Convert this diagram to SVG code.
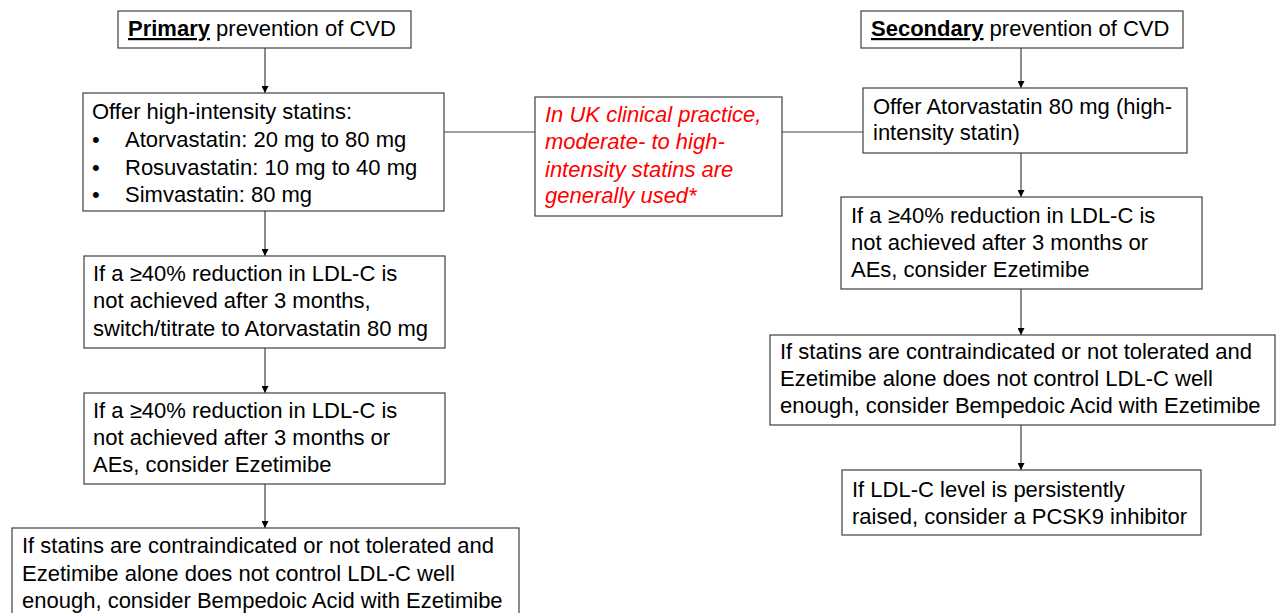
<svg xmlns="http://www.w3.org/2000/svg" width="1279" height="613" viewBox="0 0 1279 613">
<defs>
<marker id="ah" viewBox="0 0 10 10" refX="10" refY="5" markerWidth="7" markerHeight="7" markerUnits="userSpaceOnUse" orient="auto">
<path d="M0,0 L10,5 L0,10 z" fill="#000"/>
</marker>
<style>
.box{fill:#fff;stroke:#404040;stroke-width:1.2}
.t{font-family:"Liberation Sans",Arial,sans-serif;font-size:22px;fill:#000}
.r{font-family:"Liberation Sans",Arial,sans-serif;font-size:22px;font-style:italic;fill:#ff0000}
.b{font-weight:bold;text-decoration:underline}
.c{stroke:#404040;stroke-width:1.2;fill:none}
.a{marker-end:url(#ah)}
</style>
</defs>
<rect width="1279" height="613" fill="#fff"/>
<g id="connectors">
<line class="c a" x1="265" y1="48" x2="265" y2="93"/>
<line class="c a" x1="265" y1="211" x2="265" y2="256"/>
<line class="c a" x1="265" y1="348" x2="265" y2="393"/>
<line class="c a" x1="265" y1="484" x2="265" y2="528"/>
<line class="c" x1="444" y1="132" x2="535" y2="132"/>
<line class="c" x1="782" y1="132" x2="863" y2="132"/>
<line class="c a" x1="1021" y1="48" x2="1021" y2="88"/>
<line class="c a" x1="1021" y1="153" x2="1021" y2="197"/>
<line class="c a" x1="1021" y1="289" x2="1021" y2="335"/>
<line class="c a" x1="1021" y1="425" x2="1021" y2="470"/>
</g>
<g id="primary">
<rect class="box" x="118" y="11" width="293" height="37"/>
<text class="t" x="128" y="36"><tspan class="b">Primary</tspan> prevention of CVD</text>
</g>
<g id="offer-high">
<rect class="box" x="83" y="93" width="361" height="118"/>
<text class="t" x="92" y="119">Offer high-intensity statins:</text>
<text class="t" x="92" y="147">•</text><text class="t" x="125" y="147">Atorvastatin: 20 mg to 80 mg</text>
<text class="t" x="92" y="175">•</text><text class="t" x="125" y="175">Rosuvastatin: 10 mg to 40 mg</text>
<text class="t" x="92" y="202">•</text><text class="t" x="125" y="202">Simvastatin: 80 mg</text>
</g>
<g id="p-switch">
<rect class="box" x="84" y="256" width="361" height="92"/>
<text class="t" x="93" y="281">If a ≥40% reduction in LDL-C is</text>
<text class="t" x="93" y="308">not achieved after 3 months,</text>
<text class="t" x="93" y="336">switch/titrate to Atorvastatin 80 mg</text>
</g>
<g id="p-ezetimibe">
<rect class="box" x="84" y="393" width="361" height="91"/>
<text class="t" x="93" y="418">If a ≥40% reduction in LDL-C is</text>
<text class="t" x="93" y="445">not achieved after 3 months or</text>
<text class="t" x="93" y="472">AEs, consider Ezetimibe</text>
</g>
<g id="p-bempedoic">
<rect class="box" x="12" y="528" width="507" height="100"/>
<text class="t" x="22" y="553">If statins are contraindicated or not tolerated and</text>
<text class="t" x="22" y="581">Ezetimibe alone does not control LDL-C well</text>
<text class="t" x="22" y="608">enough, consider Bempedoic Acid with Ezetimibe</text>
</g>
<g id="uk-note">
<rect class="box" x="535" y="97" width="247" height="119"/>
<text class="r" x="545" y="122">In UK clinical practice,</text>
<text class="r" x="545" y="149">moderate- to high-</text>
<text class="r" x="545" y="177">intensity statins are</text>
<text class="r" x="545" y="203">generally used*</text>
</g>
<g id="secondary">
<rect class="box" x="861" y="11" width="322" height="37"/>
<text class="t" x="871" y="36"><tspan class="b">Secondary</tspan> prevention of CVD</text>
</g>
<g id="offer-atorva">
<rect class="box" x="863" y="88" width="324" height="65"/>
<text class="t" x="873" y="114">Offer Atorvastatin 80 mg (high-</text>
<text class="t" x="873" y="140">intensity statin)</text>
</g>
<g id="s-ezetimibe">
<rect class="box" x="841" y="197" width="361" height="92"/>
<text class="t" x="851" y="223">If a ≥40% reduction in LDL-C is</text>
<text class="t" x="851" y="250">not achieved after 3 months or</text>
<text class="t" x="851" y="277">AEs, consider Ezetimibe</text>
</g>
<g id="s-bempedoic">
<rect class="box" x="770" y="335" width="505" height="90"/>
<text class="t" x="780" y="359">If statins are contraindicated or not tolerated and</text>
<text class="t" x="780" y="386">Ezetimibe alone does not control LDL-C well</text>
<text class="t" x="780" y="413">enough, consider Bempedoic Acid with Ezetimibe</text>
</g>
<g id="s-pcsk9">
<rect class="box" x="842" y="470" width="359" height="65"/>
<text class="t" x="852" y="497">If LDL-C level is persistently</text>
<text class="t" x="852" y="524">raised, consider a PCSK9 inhibitor</text>
</g>
</svg>
